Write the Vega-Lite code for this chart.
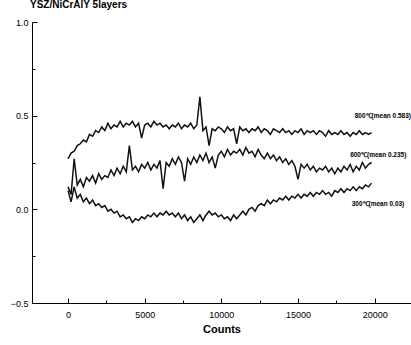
{
  "$schema": "https://vega.github.io/schema/vega-lite/v6.json",
  "autosize": "none",
  "width": 379,
  "height": 281,
  "padding": {"left": 32, "top": 22, "right": 0, "bottom": 42},
  "background": "#ffffff",
  "title": {
    "text": "YSZ/NiCrAlY 5layers",
    "anchor": "start",
    "frame": "group",
    "offset": 8,
    "dx": -2,
    "font": "Liberation Sans",
    "fontSize": 10,
    "fontWeight": "bold",
    "color": "#000000"
  },
  "config": {
    "view": {"stroke": null},
    "axis": {
      "labelFont": "Liberation Sans",
      "labelFontSize": 9,
      "labelColor": "#000000",
      "domainColor": "#000000",
      "tickColor": "#000000",
      "grid": false,
      "titleFont": "Liberation Sans",
      "titleColor": "#000000"
    }
  },
  "datasets": {
    "series": [
      {"c": 0, "a": 0.27, "b": 0.12, "d": 0.10},
      {"c": 200, "a": 0.30, "b": 0.08, "d": 0.04},
      {"c": 400, "a": 0.31, "b": 0.27, "d": 0.12},
      {"c": 600, "a": 0.34, "b": 0.13, "d": 0.06},
      {"c": 800, "a": 0.35, "b": 0.16, "d": 0.08},
      {"c": 1000, "a": 0.37, "b": 0.12, "d": 0.04},
      {"c": 1200, "a": 0.36, "b": 0.17, "d": 0.06},
      {"c": 1400, "a": 0.40, "b": 0.15, "d": 0.03},
      {"c": 1600, "a": 0.39, "b": 0.18, "d": 0.05},
      {"c": 1800, "a": 0.42, "b": 0.14, "d": 0.02},
      {"c": 2000, "a": 0.41, "b": 0.19, "d": 0.03},
      {"c": 2200, "a": 0.44, "b": 0.16, "d": 0.01},
      {"c": 2400, "a": 0.42, "b": 0.18, "d": 0.02},
      {"c": 2600, "a": 0.46, "b": 0.17, "d": -0.01},
      {"c": 2800, "a": 0.43, "b": 0.21, "d": 0.00},
      {"c": 3000, "a": 0.45, "b": 0.18, "d": -0.02},
      {"c": 3200, "a": 0.44, "b": 0.22, "d": -0.01},
      {"c": 3400, "a": 0.47, "b": 0.19, "d": -0.04},
      {"c": 3600, "a": 0.44, "b": 0.23, "d": -0.03},
      {"c": 3800, "a": 0.46, "b": 0.20, "d": -0.05},
      {"c": 4000, "a": 0.45, "b": 0.34, "d": -0.04},
      {"c": 4200, "a": 0.47, "b": 0.21, "d": -0.07},
      {"c": 4400, "a": 0.44, "b": 0.23, "d": -0.05},
      {"c": 4600, "a": 0.46, "b": 0.20, "d": -0.06},
      {"c": 4800, "a": 0.38, "b": 0.24, "d": -0.04},
      {"c": 5000, "a": 0.45, "b": 0.22, "d": -0.05},
      {"c": 5200, "a": 0.46, "b": 0.25, "d": -0.03},
      {"c": 5400, "a": 0.44, "b": 0.21, "d": -0.04},
      {"c": 5600, "a": 0.47, "b": 0.24, "d": -0.02},
      {"c": 5800, "a": 0.45, "b": 0.22, "d": -0.04},
      {"c": 6000, "a": 0.46, "b": 0.26, "d": -0.02},
      {"c": 6200, "a": 0.44, "b": 0.11, "d": -0.03},
      {"c": 6400, "a": 0.45, "b": 0.25, "d": -0.01},
      {"c": 6600, "a": 0.43, "b": 0.23, "d": -0.03},
      {"c": 6800, "a": 0.45, "b": 0.27, "d": -0.02},
      {"c": 7000, "a": 0.44, "b": 0.24, "d": -0.04},
      {"c": 7200, "a": 0.46, "b": 0.28, "d": -0.02},
      {"c": 7400, "a": 0.43, "b": 0.25, "d": -0.05},
      {"c": 7600, "a": 0.45, "b": 0.15, "d": -0.03},
      {"c": 7800, "a": 0.44, "b": 0.27, "d": -0.06},
      {"c": 8000, "a": 0.46, "b": 0.24, "d": -0.04},
      {"c": 8200, "a": 0.43, "b": 0.28, "d": -0.07},
      {"c": 8400, "a": 0.45, "b": 0.25, "d": -0.05},
      {"c": 8600, "a": 0.60, "b": 0.29, "d": -0.03},
      {"c": 8800, "a": 0.42, "b": 0.26, "d": -0.06},
      {"c": 9000, "a": 0.44, "b": 0.30, "d": -0.03},
      {"c": 9200, "a": 0.34, "b": 0.25, "d": -0.01},
      {"c": 9400, "a": 0.43, "b": 0.28, "d": -0.03},
      {"c": 9600, "a": 0.42, "b": 0.22, "d": -0.02},
      {"c": 9800, "a": 0.44, "b": 0.29, "d": -0.04},
      {"c": 10000, "a": 0.43, "b": 0.31, "d": -0.03},
      {"c": 10200, "a": 0.41, "b": 0.28, "d": -0.05},
      {"c": 10400, "a": 0.44, "b": 0.32, "d": -0.04},
      {"c": 10600, "a": 0.42, "b": 0.29, "d": -0.06},
      {"c": 10800, "a": 0.43, "b": 0.31, "d": -0.03},
      {"c": 11000, "a": 0.35, "b": 0.30, "d": -0.05},
      {"c": 11200, "a": 0.44, "b": 0.32, "d": -0.03},
      {"c": 11400, "a": 0.42, "b": 0.29, "d": -0.01},
      {"c": 11600, "a": 0.43, "b": 0.33, "d": -0.03},
      {"c": 11800, "a": 0.41, "b": 0.30, "d": 0.00},
      {"c": 12000, "a": 0.43, "b": 0.31, "d": 0.01},
      {"c": 12200, "a": 0.42, "b": 0.28, "d": -0.01},
      {"c": 12400, "a": 0.44, "b": 0.32, "d": 0.02},
      {"c": 12600, "a": 0.41, "b": 0.29, "d": 0.03},
      {"c": 12800, "a": 0.43, "b": 0.27, "d": 0.02},
      {"c": 13000, "a": 0.42, "b": 0.30, "d": 0.05},
      {"c": 13200, "a": 0.40, "b": 0.27, "d": 0.03},
      {"c": 13400, "a": 0.43, "b": 0.29, "d": 0.05},
      {"c": 13600, "a": 0.42, "b": 0.26, "d": 0.04},
      {"c": 13800, "a": 0.41, "b": 0.28, "d": 0.06},
      {"c": 14000, "a": 0.43, "b": 0.25, "d": 0.05},
      {"c": 14200, "a": 0.41, "b": 0.27, "d": 0.07},
      {"c": 14400, "a": 0.42, "b": 0.24, "d": 0.05},
      {"c": 14600, "a": 0.40, "b": 0.26, "d": 0.07},
      {"c": 14800, "a": 0.42, "b": 0.23, "d": 0.06},
      {"c": 15000, "a": 0.41, "b": 0.16, "d": 0.08},
      {"c": 15200, "a": 0.43, "b": 0.24, "d": 0.06},
      {"c": 15400, "a": 0.40, "b": 0.22, "d": 0.08},
      {"c": 15600, "a": 0.42, "b": 0.24, "d": 0.07},
      {"c": 15800, "a": 0.41, "b": 0.21, "d": 0.09},
      {"c": 16000, "a": 0.42, "b": 0.23, "d": 0.07},
      {"c": 16200, "a": 0.40, "b": 0.20, "d": 0.09},
      {"c": 16400, "a": 0.42, "b": 0.22, "d": 0.08},
      {"c": 16600, "a": 0.41, "b": 0.21, "d": 0.10},
      {"c": 16800, "a": 0.39, "b": 0.23, "d": 0.08},
      {"c": 17000, "a": 0.42, "b": 0.20, "d": 0.09},
      {"c": 17200, "a": 0.40, "b": 0.22, "d": 0.07},
      {"c": 17400, "a": 0.41, "b": 0.19, "d": 0.10},
      {"c": 17600, "a": 0.40, "b": 0.22, "d": 0.09},
      {"c": 17800, "a": 0.42, "b": 0.20, "d": 0.11},
      {"c": 18000, "a": 0.40, "b": 0.23, "d": 0.09},
      {"c": 18200, "a": 0.41, "b": 0.21, "d": 0.11},
      {"c": 18400, "a": 0.39, "b": 0.24, "d": 0.10},
      {"c": 18600, "a": 0.41, "b": 0.20, "d": 0.12},
      {"c": 18800, "a": 0.40, "b": 0.23, "d": 0.10},
      {"c": 19000, "a": 0.42, "b": 0.21, "d": 0.12},
      {"c": 19200, "a": 0.40, "b": 0.25, "d": 0.11},
      {"c": 19400, "a": 0.41, "b": 0.22, "d": 0.13},
      {"c": 19600, "a": 0.40, "b": 0.24, "d": 0.12},
      {"c": 19800, "a": 0.41, "b": 0.25, "d": 0.14}
    ],
    "labels": [
      {"c": 18700, "v": 0.50, "t": "800℃(mean 0.583)"},
      {"c": 18400, "v": 0.29, "t": "600℃(mean 0.235)"},
      {"c": 18500, "v": 0.027, "t": "300℃(mean 0.03)"}
    ]
  },
  "layer": [
    {
      "data": {"name": "series"},
      "transform": [{"fold": ["a", "b", "d"], "as": ["s", "v"]}],
      "mark": {"type": "line", "color": "#111111", "strokeWidth": 1.5, "clip": true},
      "encoding": {
        "x": {
          "field": "c",
          "type": "quantitative",
          "scale": {"domain": [-2350, 22370], "nice": false, "zero": false},
          "axis": {
            "title": "Counts",
            "titleFontSize": 11,
            "titleFontWeight": "bold",
            "titlePadding": 4,
            "values": [0, 2500, 5000, 7500, 10000, 12500, 15000, 17500, 20000],
            "labelExpr": "datum.value % 5000 === 0 ? format(datum.value, 'd') : ''",
            "tickSize": {"condition": {"test": "datum.value % 5000 === 0", "value": -5}, "value": -3},
            "labelPadding": 12
          }
        },
        "y": {
          "field": "v",
          "type": "quantitative",
          "scale": {"domain": [-0.5, 1.0], "nice": false, "zero": false},
          "axis": {
            "title": null,
            "values": [-0.5, -0.25, 0, 0.25, 0.5, 0.75, 1.0],
            "labelExpr": "(datum.value * 4) % 2 === 0 ? format(datum.value, '.1f') : ''",
            "tickSize": {"condition": {"test": "(datum.value * 4) % 2 === 0", "value": -5}, "value": -3},
            "labelPadding": 9
          }
        },
        "detail": {"field": "s"}
      }
    },
    {
      "mark": {"type": "rule", "color": "#000000", "strokeWidth": 1},
      "encoding": {"y": {"datum": 1.0}}
    },
    {
      "data": {"name": "labels"},
      "mark": {"type": "text", "align": "left", "baseline": "middle", "font": "Liberation Sans", "fontSize": 6.5, "fontWeight": "bold", "color": "#000000"},
      "encoding": {
        "x": {"field": "c", "type": "quantitative"},
        "y": {"field": "v", "type": "quantitative"},
        "text": {"field": "t"}
      }
    }
  ]
}
